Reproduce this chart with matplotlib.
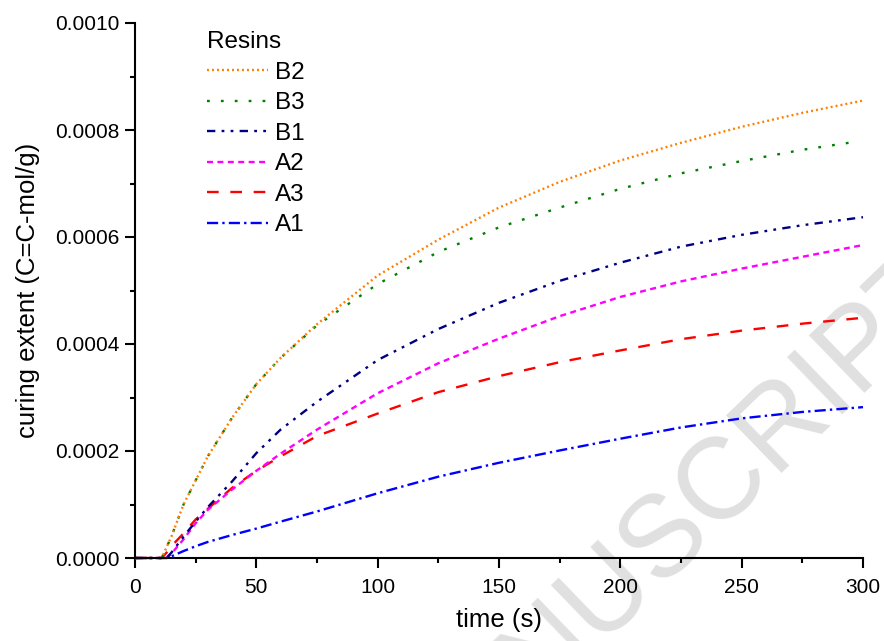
import matplotlib
matplotlib.use("Agg")
import matplotlib.pyplot as plt
from matplotlib.ticker import MultipleLocator, FormatStrFormatter

plt.rcParams['font.family'] = ['Liberation Sans', 'DejaVu Sans']
plt.rcParams['lines.scale_dashes'] = False

# ---- data ----
t = [0, 11, 13, 15, 20, 25, 30, 40, 50, 60, 75, 100, 125, 150, 175, 200, 225, 250, 275, 300]

B2 = [0, 0, 0.000020, 0.000040, 0.000100, 0.000145, 0.000190, 0.000262, 0.000325, 0.000374, 0.000437,
      0.000528, 0.000595, 0.000655, 0.000703, 0.000743, 0.000776, 0.000806, 0.000832, 0.000855]
B3 = [0, 0, 0.000020, 0.000040, 0.000100, 0.000145, 0.000190, 0.000262, 0.000325, 0.000374, 0.000435,
      0.000512, 0.000572, 0.000618, 0.000655, 0.000690, 0.000719, 0.000742, 0.000763, 0.000778]
B1 = [0, 0, 0, 0.000010, 0.000040, 0.000068, 0.000095, 0.000143, 0.000196, 0.000240, 0.000292,
      0.000370, 0.000428, 0.000477, 0.000518, 0.000552, 0.000582, 0.000604, 0.000622, 0.000637]
A2 = [0, 0, 0, 0.000008, 0.000035, 0.000065, 0.000090, 0.000128, 0.000163, 0.000195, 0.000240,
      0.000308, 0.000364, 0.000410, 0.000452, 0.000488, 0.000517, 0.000541, 0.000563, 0.000585]
A3 = [0, 0, 0.000010, 0.000022, 0.000046, 0.000072, 0.000092, 0.000131, 0.000163, 0.000190, 0.000228,
      0.000270, 0.000310, 0.000340, 0.000366, 0.000388, 0.000409, 0.000425, 0.000438, 0.000449]
A1 = [0, 0, 0, 0.000003, 0.000013, 0.000022, 0.000030, 0.000043, 0.000055, 0.000068, 0.000087,
      0.000121, 0.000152, 0.000178, 0.000201, 0.000223, 0.000244, 0.000261, 0.000273, 0.000282]

labels = ['B2', 'B3', 'B1', 'A2', 'A3', 'A1']
series = [B2, B3, B1, A2, A3, A1]
colors = ['#FF8000', '#008000', '#000080', '#FF00FF', '#FF0000', '#0000FF']
dashes = [(1.4, 2.2), (2.0, 8.0), (6, 4.5, 2, 4.5, 2, 4.5), (4.3, 3.2), (8.4, 8.4), (8, 3, 1.7, 3)]

fig = plt.figure(figsize=(8.84, 6.41), dpi=100)
ax = fig.add_axes([135/884, 1-558/641, 728/884, 535/641])
ax.patch.set_alpha(0)

# watermark
fig.text(667/884, 1-533/641, 'MANUSCRIPT', fontsize=83, color='#e0e0e0', rotation=44,
         rotation_mode='anchor', ha='center', va='center', zorder=-5)

handles = {}
for i in range(len(labels) - 1, -1, -1):
    tt = t if labels[i] != 'B3' else t[:-1] + [297]
    ln, = ax.plot(tt, series[i], color=colors[i], lw=1.7, dashes=dashes[i],
                  dash_capstyle='butt', clip_on=False, label=labels[i])
    handles[labels[i]] = ln

ax.set_xlim(0, 300)
ax.set_ylim(0, 0.0010)
ax.xaxis.set_major_locator(MultipleLocator(50))
ax.xaxis.set_minor_locator(MultipleLocator(25))
ax.yaxis.set_major_locator(MultipleLocator(0.0002))
ax.yaxis.set_minor_locator(MultipleLocator(0.0001))
ax.yaxis.set_major_formatter(FormatStrFormatter('%.4f'))

for s in ['top', 'right']:
    ax.spines[s].set_visible(False)
for s in ['left', 'bottom']:
    ax.spines[s].set_linewidth(1.5)
ax.tick_params(which='major', direction='out', length=7, width=1.5, labelsize=15)
ax.tick_params(which='minor', direction='out', length=3.6, width=1.5)
ax.tick_params(axis='x', which='major', pad=7.5)
ax.tick_params(axis='y', which='major', pad=4)

ax.set_xlabel('time (s)', fontsize=18.5, labelpad=8)
ax.set_ylabel('curing extent (C=C-mol/g)', fontsize=18.5, labelpad=11)

leg = ax.legend([handles[l] for l in labels], labels, title='Resins', loc='upper left',
                bbox_to_anchor=(207/884, 1-31/641), bbox_transform=fig.transFigure,
                frameon=False, fontsize=17.5, title_fontsize=17.5, handlelength=2.5,
                handletextpad=0.29, labelspacing=0.35, borderpad=0, borderaxespad=0,
                alignment='left')

fig.savefig('out.png', dpi=100)
